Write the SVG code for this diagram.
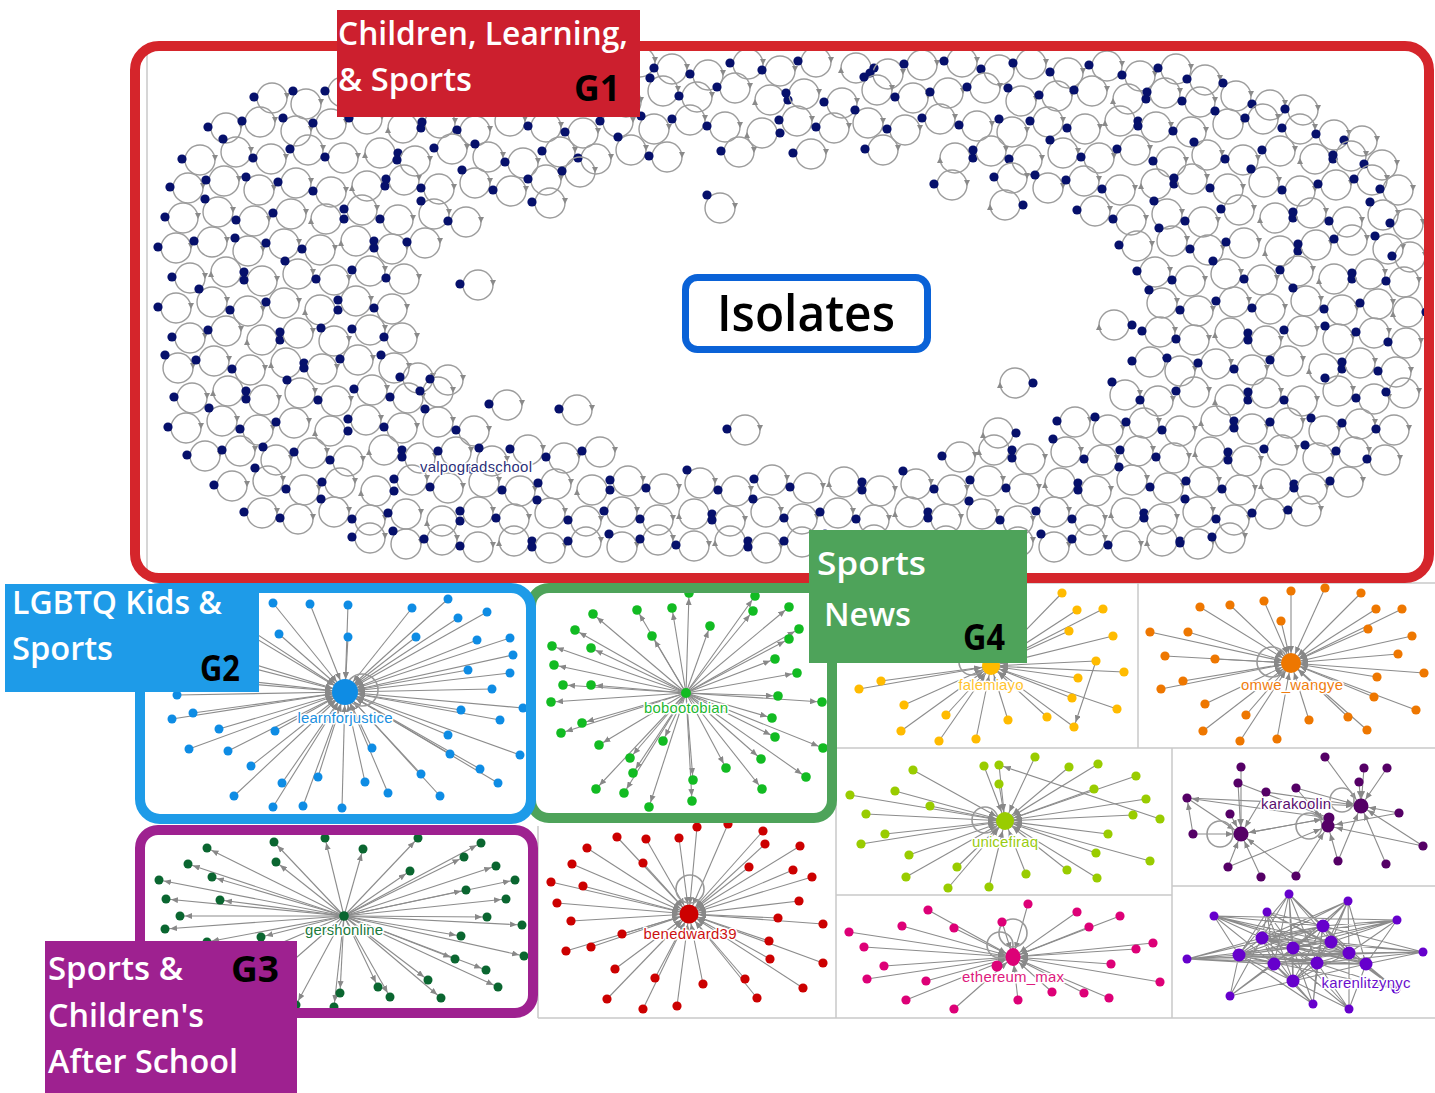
<svg xmlns="http://www.w3.org/2000/svg" xmlns:xlink="http://www.w3.org/1999/xlink" width="1435" height="1093" viewBox="0 0 1435 1093">
<style>
.ring{fill:none;stroke:#9c9c9c;stroke-width:1.4}
.nv{fill:#06106b}
.ah{fill:#8a8a8a}
.e path{stroke:#8c8c8c;stroke-width:1.1;fill:none}
.loop{fill:none;stroke:#9a9a9a;stroke-width:1.6}
.o12 path{marker-end:url(#m12)}
.i20 path{marker-end:url(#m20)}
.i17 path{marker-end:url(#m17)}
.i15 path{marker-end:url(#m15)}
.sep{stroke:#c9c9c9;stroke-width:1.5;fill:none}
.hl{font-family:"Liberation Sans",Arial,sans-serif;font-size:15px;text-anchor:middle;paint-order:stroke;stroke:#fff;stroke-width:3px;stroke-linejoin:round}
.lab{font-family:"Open Sans","Noto Sans",sans-serif;font-size:32px;font-weight:600;fill:#fff}
.gid{font-family:"Open Sans","Noto Sans",sans-serif;font-size:35px;font-weight:700;fill:#000}
</style>
<defs>
<marker id="m12" markerUnits="userSpaceOnUse" viewBox="0 0 8 6" markerWidth="8" markerHeight="6" refX="12" refY="3" orient="auto"><path d="M0,0 L7,3 L0,6z" fill="#888"/></marker>
<marker id="m15" markerUnits="userSpaceOnUse" viewBox="0 0 8 6" markerWidth="8" markerHeight="6" refX="15" refY="3" orient="auto"><path d="M0,0 L7,3 L0,6z" fill="#888"/></marker>
<marker id="m17" markerUnits="userSpaceOnUse" viewBox="0 0 8 6" markerWidth="8" markerHeight="6" refX="17" refY="3" orient="auto"><path d="M0,0 L7,3 L0,6z" fill="#888"/></marker>
<marker id="m20" markerUnits="userSpaceOnUse" viewBox="0 0 8 6" markerWidth="8" markerHeight="6" refX="20" refY="3" orient="auto"><path d="M0,0 L7,3 L0,6z" fill="#888"/></marker>
<g id="a"><circle r="15" class="ring"/><path class="ah" d="M12,-5 L18,-5 L15,1z"/><circle cx="-18" cy="-1" r="4.6" class="nv"/></g>
<g id="b"><circle r="15" class="ring"/><path class="ah" d="M12,-5 L18,-5 L15,1z"/><circle cx="-13" cy="-13" r="4.6" class="nv"/></g>
<g id="c"><circle r="15" class="ring"/><path class="ah" d="M-12,5 L-18,5 L-15,-1z"/><circle cx="18" cy="0" r="4.6" class="nv"/></g>
</defs>
<rect width="1435" height="1093" fill="#fff"/>

<g id="panel-lines">
<path class="sep" d="M147 52V572 M836 583V1018 M1138 583V748 M836 748H1435 M1172 748V1018 M836 895H1172 M1172 886H1435 M538 1018H1435 M538 826V1018 M836 583H1435"/>
</g>

<g id="isolates">
<use href="#a" x="388" y="69"/><use href="#a" x="425" y="63"/><use href="#a" x="458" y="72"/><use href="#a" x="497" y="65"/><use href="#a" x="530" y="74"/><use href="#c" x="566" y="63"/><use href="#a" x="603" y="70"/><use href="#a" x="640" y="62"/><use href="#a" x="672" y="69"/><use href="#a" x="708" y="75"/><use href="#a" x="748" y="64"/><use href="#a" x="780" y="71"/><use href="#a" x="816" y="62"/><use href="#c" x="856" y="68"/><use href="#a" x="888" y="74"/><use href="#a" x="922" y="65"/><use href="#a" x="962" y="62"/><use href="#a" x="999" y="70"/><use href="#a" x="1031" y="64"/><use href="#a" x="1068" y="73"/><use href="#a" x="1107" y="66"/><use href="#a" x="1140" y="76"/><use href="#a" x="1176" y="69"/><use href="#a" x="1205" y="80"/>
<use href="#a" x="272" y="98"/><use href="#b" x="306" y="104"/><use href="#a" x="343" y="92"/><use href="#a" x="378" y="99"/><use href="#c" x="412" y="93"/><use href="#a" x="447" y="101"/><use href="#a" x="484" y="95"/><use href="#b" x="519" y="89"/><use href="#a" x="555" y="99"/><use href="#a" x="590" y="93"/><use href="#a" x="626" y="102"/><use href="#b" x="663" y="91"/><use href="#a" x="697" y="97"/><use href="#a" x="735" y="88"/><use href="#c" x="770" y="100"/><use href="#a" x="804" y="94"/><use href="#a" x="842" y="103"/><use href="#b" x="877" y="90"/><use href="#a" x="913" y="98"/><use href="#a" x="948" y="93"/><use href="#a" x="985" y="88"/><use href="#b" x="1021" y="101"/><use href="#a" x="1057" y="96"/><use href="#a" x="1092" y="91"/><use href="#c" x="1128" y="99"/><use href="#a" x="1165" y="93"/><use href="#a" x="1200" y="102"/><use href="#b" x="1236" y="96"/><use href="#a" x="1270" y="105"/><use href="#a" x="1303" y="110"/>
<use href="#a" x="226" y="128"/><use href="#a" x="260" y="122"/><use href="#b" x="296" y="131"/><use href="#a" x="331" y="124"/><use href="#a" x="367" y="119"/><use href="#c" x="403" y="128"/><use href="#a" x="440" y="123"/><use href="#a" x="475" y="131"/><use href="#b" x="510" y="121"/><use href="#a" x="546" y="127"/><use href="#a" x="583" y="133"/><use href="#a" x="618" y="122"/><use href="#b" x="654" y="129"/><use href="#a" x="690" y="120"/><use href="#a" x="725" y="127"/><use href="#c" x="762" y="133"/><use href="#a" x="797" y="121"/><use href="#a" x="834" y="128"/><use href="#b" x="868" y="123"/><use href="#a" x="905" y="130"/><use href="#a" x="940" y="119"/><use href="#a" x="977" y="126"/><use href="#b" x="1012" y="132"/><use href="#a" x="1048" y="122"/><use href="#a" x="1085" y="129"/><use href="#c" x="1120" y="121"/><use href="#a" x="1156" y="127"/><use href="#a" x="1191" y="132"/><use href="#b" x="1228" y="124"/><use href="#a" x="1263" y="119"/><use href="#a" x="1300" y="129"/><use href="#a" x="1334" y="135"/><use href="#a" x="1362" y="141"/>
<use href="#a" x="200" y="160"/><use href="#b" x="236" y="152"/><use href="#a" x="271" y="159"/><use href="#a" x="308" y="150"/><use href="#a" x="343" y="158"/><use href="#c" x="380" y="153"/><use href="#a" x="415" y="161"/><use href="#a" x="452" y="149"/><use href="#b" x="488" y="157"/><use href="#a" x="523" y="163"/><use href="#a" x="560" y="152"/><use href="#a" x="596" y="159"/><use href="#b" x="631" y="150"/><use href="#a" x="667" y="157"/><use href="#a" x="739" y="152"/><use href="#a" x="811" y="154"/><use href="#a" x="883" y="150"/><use href="#c" x="955" y="158"/><use href="#a" x="991" y="151"/><use href="#a" x="1027" y="160"/><use href="#b" x="1063" y="153"/><use href="#a" x="1099" y="158"/><use href="#a" x="1135" y="150"/><use href="#a" x="1171" y="162"/><use href="#b" x="1207" y="155"/><use href="#a" x="1243" y="160"/><use href="#a" x="1280" y="151"/><use href="#c" x="1315" y="159"/><use href="#a" x="1351" y="156"/><use href="#a" x="1382" y="165"/>
<use href="#a" x="188" y="188"/><use href="#a" x="224" y="181"/><use href="#b" x="259" y="190"/><use href="#a" x="296" y="183"/><use href="#a" x="331" y="192"/><use href="#c" x="367" y="186"/><use href="#a" x="404" y="180"/><use href="#a" x="439" y="189"/><use href="#b" x="475" y="183"/><use href="#a" x="511" y="191"/><use href="#a" x="546" y="180"/><use href="#a" x="1012" y="178"/><use href="#b" x="1048" y="188"/><use href="#a" x="1084" y="181"/><use href="#a" x="1120" y="190"/><use href="#c" x="1156" y="184"/><use href="#a" x="1192" y="179"/><use href="#a" x="1228" y="189"/><use href="#b" x="1264" y="182"/><use href="#a" x="1300" y="191"/><use href="#a" x="1336" y="185"/><use href="#a" x="1372" y="180"/><use href="#a" x="1398" y="190"/>
<use href="#a" x="183" y="218"/><use href="#b" x="218" y="212"/><use href="#a" x="254" y="221"/><use href="#a" x="291" y="214"/><use href="#c" x="326" y="219"/><use href="#a" x="362" y="210"/><use href="#a" x="398" y="220"/><use href="#b" x="434" y="214"/><use href="#a" x="466" y="222"/><use href="#a" x="1095" y="211"/><use href="#a" x="1131" y="220"/><use href="#b" x="1167" y="214"/><use href="#a" x="1203" y="222"/><use href="#a" x="1239" y="210"/><use href="#c" x="1275" y="218"/><use href="#a" x="1311" y="213"/><use href="#a" x="1347" y="222"/><use href="#b" x="1383" y="215"/><use href="#a" x="1408" y="224"/>
<use href="#a" x="176" y="248"/><use href="#a" x="212" y="242"/><use href="#b" x="248" y="251"/><use href="#a" x="284" y="244"/><use href="#a" x="320" y="250"/><use href="#c" x="356" y="241"/><use href="#a" x="392" y="249"/><use href="#a" x="425" y="243"/><use href="#a" x="1137" y="246"/><use href="#b" x="1172" y="241"/><use href="#a" x="1208" y="250"/><use href="#a" x="1244" y="243"/><use href="#c" x="1280" y="251"/><use href="#a" x="1316" y="245"/><use href="#a" x="1352" y="240"/><use href="#b" x="1388" y="249"/><use href="#a" x="1410" y="257"/>
<use href="#a" x="190" y="278"/><use href="#c" x="226" y="272"/><use href="#a" x="262" y="281"/><use href="#b" x="298" y="274"/><use href="#a" x="334" y="280"/><use href="#a" x="370" y="271"/><use href="#a" x="404" y="279"/><use href="#a" x="1155" y="272"/><use href="#a" x="1190" y="281"/><use href="#b" x="1226" y="274"/><use href="#a" x="1262" y="280"/><use href="#a" x="1298" y="271"/><use href="#c" x="1334" y="279"/><use href="#a" x="1370" y="274"/><use href="#a" x="1404" y="282"/>
<use href="#a" x="176" y="308"/><use href="#b" x="212" y="302"/><use href="#a" x="248" y="311"/><use href="#a" x="284" y="303"/><use href="#c" x="320" y="310"/><use href="#a" x="356" y="301"/><use href="#a" x="392" y="309"/><use href="#b" x="1162" y="303"/><use href="#a" x="1198" y="311"/><use href="#a" x="1234" y="302"/><use href="#a" x="1270" y="309"/><use href="#b" x="1306" y="301"/><use href="#a" x="1342" y="310"/><use href="#a" x="1378" y="304"/><use href="#c" x="1408" y="312"/>
<use href="#a" x="190" y="338"/><use href="#a" x="226" y="331"/><use href="#c" x="262" y="340"/><use href="#a" x="298" y="333"/><use href="#b" x="334" y="341"/><use href="#a" x="370" y="330"/><use href="#a" x="402" y="338"/><use href="#a" x="1160" y="332"/><use href="#a" x="1194" y="340"/><use href="#c" x="1230" y="333"/><use href="#a" x="1266" y="341"/><use href="#a" x="1302" y="331"/><use href="#b" x="1338" y="339"/><use href="#a" x="1374" y="333"/><use href="#a" x="1406" y="343"/>
<use href="#b" x="178" y="368"/><use href="#a" x="214" y="361"/><use href="#a" x="250" y="370"/><use href="#c" x="286" y="363"/><use href="#a" x="322" y="369"/><use href="#a" x="358" y="360"/><use href="#b" x="394" y="368"/><use href="#a" x="418" y="378"/><use href="#a" x="1150" y="362"/><use href="#b" x="1180" y="371"/><use href="#a" x="1216" y="364"/><use href="#a" x="1252" y="370"/><use href="#a" x="1288" y="361"/><use href="#c" x="1324" y="369"/><use href="#a" x="1360" y="363"/><use href="#a" x="1396" y="372"/>
<use href="#a" x="192" y="398"/><use href="#c" x="228" y="391"/><use href="#a" x="264" y="400"/><use href="#b" x="300" y="393"/><use href="#a" x="336" y="401"/><use href="#a" x="372" y="390"/><use href="#a" x="408" y="398"/><use href="#a" x="438" y="392"/><use href="#b" x="1125" y="395"/><use href="#a" x="1158" y="401"/><use href="#a" x="1194" y="392"/><use href="#c" x="1230" y="400"/><use href="#a" x="1266" y="393"/><use href="#a" x="1302" y="401"/><use href="#b" x="1338" y="391"/><use href="#a" x="1374" y="399"/><use href="#a" x="1404" y="393"/>
<use href="#a" x="186" y="428"/><use href="#b" x="222" y="421"/><use href="#a" x="258" y="430"/><use href="#a" x="294" y="423"/><use href="#c" x="330" y="431"/><use href="#a" x="366" y="420"/><use href="#a" x="402" y="428"/><use href="#b" x="438" y="422"/><use href="#a" x="474" y="431"/><use href="#a" x="1075" y="422"/><use href="#b" x="1108" y="430"/><use href="#a" x="1144" y="423"/><use href="#a" x="1180" y="431"/><use href="#c" x="1216" y="421"/><use href="#a" x="1252" y="429"/><use href="#a" x="1288" y="423"/><use href="#b" x="1324" y="431"/><use href="#a" x="1360" y="424"/><use href="#a" x="1394" y="430"/>
<use href="#a" x="205" y="456"/><use href="#a" x="240" y="451"/><use href="#b" x="276" y="460"/><use href="#a" x="312" y="453"/><use href="#a" x="348" y="461"/><use href="#c" x="384" y="450"/><use href="#a" x="420" y="458"/><use href="#a" x="456" y="452"/><use href="#b" x="492" y="461"/><use href="#a" x="528" y="450"/><use href="#a" x="564" y="458"/><use href="#a" x="600" y="452"/><use href="#a" x="960" y="457"/><use href="#c" x="994" y="450"/><use href="#a" x="1030" y="459"/><use href="#b" x="1066" y="452"/><use href="#a" x="1102" y="460"/><use href="#a" x="1138" y="451"/><use href="#a" x="1174" y="458"/><use href="#c" x="1210" y="452"/><use href="#a" x="1246" y="461"/><use href="#a" x="1282" y="450"/><use href="#b" x="1318" y="458"/><use href="#a" x="1354" y="452"/><use href="#a" x="1385" y="460"/>
<use href="#a" x="232" y="486"/><use href="#b" x="268" y="481"/><use href="#a" x="304" y="490"/><use href="#a" x="340" y="483"/><use href="#c" x="376" y="491"/><use href="#a" x="412" y="480"/><use href="#a" x="448" y="488"/><use href="#b" x="484" y="482"/><use href="#a" x="520" y="491"/><use href="#a" x="556" y="484"/><use href="#c" x="592" y="490"/><use href="#a" x="628" y="481"/><use href="#a" x="664" y="489"/><use href="#b" x="700" y="483"/><use href="#a" x="736" y="491"/><use href="#a" x="772" y="480"/><use href="#a" x="808" y="488"/><use href="#c" x="844" y="482"/><use href="#a" x="880" y="491"/><use href="#b" x="916" y="484"/><use href="#a" x="952" y="490"/><use href="#a" x="988" y="481"/><use href="#a" x="1024" y="489"/><use href="#c" x="1060" y="483"/><use href="#a" x="1096" y="491"/><use href="#b" x="1132" y="480"/><use href="#a" x="1168" y="488"/><use href="#a" x="1204" y="482"/><use href="#a" x="1240" y="490"/><use href="#c" x="1276" y="484"/><use href="#a" x="1312" y="489"/><use href="#a" x="1348" y="482"/>
<use href="#a" x="262" y="513"/><use href="#a" x="298" y="519"/><use href="#b" x="334" y="512"/><use href="#a" x="370" y="520"/><use href="#a" x="406" y="514"/><use href="#c" x="442" y="521"/><use href="#a" x="478" y="512"/><use href="#a" x="514" y="519"/><use href="#b" x="550" y="513"/><use href="#a" x="586" y="521"/><use href="#a" x="622" y="512"/><use href="#a" x="658" y="520"/><use href="#c" x="694" y="514"/><use href="#a" x="730" y="521"/><use href="#b" x="766" y="512"/><use href="#a" x="802" y="519"/><use href="#a" x="838" y="513"/><use href="#a" x="874" y="520"/><use href="#c" x="910" y="512"/><use href="#a" x="946" y="519"/><use href="#b" x="982" y="514"/><use href="#a" x="1018" y="521"/><use href="#a" x="1054" y="512"/><use href="#a" x="1090" y="520"/><use href="#c" x="1126" y="513"/><use href="#a" x="1162" y="519"/><use href="#b" x="1198" y="512"/><use href="#a" x="1234" y="520"/><use href="#a" x="1270" y="514"/><use href="#a" x="1306" y="511"/>
<use href="#a" x="370" y="538"/><use href="#b" x="406" y="544"/><use href="#a" x="442" y="540"/><use href="#a" x="478" y="547"/><use href="#c" x="514" y="541"/><use href="#a" x="550" y="548"/><use href="#a" x="586" y="542"/><use href="#b" x="622" y="547"/><use href="#a" x="658" y="540"/><use href="#a" x="694" y="546"/><use href="#c" x="730" y="541"/><use href="#a" x="766" y="548"/><use href="#a" x="802" y="542"/><use href="#b" x="838" y="547"/><use href="#a" x="874" y="540"/><use href="#a" x="910" y="546"/><use href="#c" x="946" y="541"/><use href="#a" x="982" y="548"/><use href="#a" x="1018" y="542"/><use href="#b" x="1054" y="547"/><use href="#a" x="1090" y="540"/><use href="#a" x="1126" y="546"/><use href="#c" x="1162" y="541"/><use href="#a" x="1198" y="544"/><use href="#a" x="1230" y="538"/>
<use href="#a" x="478" y="285"/><use href="#a" x="507" y="405"/><use href="#a" x="577" y="410"/><use href="#b" x="720" y="208"/><use href="#c" x="1005" y="205"/><use href="#c" x="1114" y="325"/><use href="#c" x="1015" y="383"/><use href="#c" x="998" y="433"/><use href="#a" x="745" y="430"/><use href="#a" x="550" y="203"/><use href="#a" x="448" y="380"/><use href="#a" x="580" y="172"/><use href="#a" x="952" y="185"/>
<text x="476" y="472" class="hl" fill="#2b3079" textLength="112">valpogradschool</text>
</g>

<g id="cluster-learnforjustice">
<g class="e i20">
<path d="M273 603L345 692"/><path d="M310 604L345 692"/><path d="M348 605L345 692"/><path d="M412 608L345 692"/><path d="M448 599L345 692"/><path d="M487 612L345 692"/><path d="M458 618L345 692"/><path d="M279 634L345 692"/><path d="M348 637L345 692"/><path d="M416 637L345 692"/><path d="M477 640L345 692"/><path d="M510 638L345 692"/><path d="M513 655L345 692"/><path d="M468 670L345 692"/><path d="M510 673L345 692"/><path d="M492 689L345 692"/><path d="M523 708L345 692"/><path d="M461 710L345 692"/><path d="M500 720L345 692"/><path d="M448 735L345 692"/><path d="M520 755L345 692"/><path d="M450 754L345 692"/><path d="M480 769L345 692"/><path d="M498 783L345 692"/><path d="M421 774L345 692"/><path d="M440 796L345 692"/><path d="M388 793L345 692"/><path d="M365 782L345 692"/><path d="M372 748L345 692"/><path d="M342 808L345 692"/><path d="M303 806L345 692"/><path d="M273 807L345 692"/><path d="M234 796L345 692"/><path d="M282 783L345 692"/><path d="M318 777L345 692"/><path d="M251 766L345 692"/><path d="M228 751L345 692"/><path d="M189 749L345 692"/><path d="M219 729L345 692"/><path d="M275 731L345 692"/><path d="M172 719L345 692"/><path d="M193 713L345 692"/><path d="M177 695L345 692"/><path d="M200 605L345 692"/><path d="M232 618L345 692"/><path d="M190 645L345 692"/><path d="M240 665L345 692"/><path d="M165 672L345 692"/><path d="M225 682L345 692"/>
</g>
<circle class="loop" cx="362" cy="690" r="16"/>
<g fill="#0e8ce4">
<circle cx="345" cy="692" r="13"/>
<circle cx="273" cy="603" r="4.5"/><circle cx="310" cy="604" r="4.5"/><circle cx="348" cy="605" r="4.5"/><circle cx="412" cy="608" r="4.5"/><circle cx="448" cy="599" r="4.5"/><circle cx="487" cy="612" r="4.5"/><circle cx="458" cy="618" r="4.5"/><circle cx="279" cy="634" r="4.5"/><circle cx="348" cy="637" r="4.5"/><circle cx="416" cy="637" r="4.5"/><circle cx="477" cy="640" r="4.5"/><circle cx="510" cy="638" r="4.5"/><circle cx="513" cy="655" r="4.5"/><circle cx="468" cy="670" r="4.5"/><circle cx="510" cy="673" r="4.5"/><circle cx="492" cy="689" r="4.5"/><circle cx="523" cy="708" r="4.5"/><circle cx="461" cy="710" r="4.5"/><circle cx="500" cy="720" r="4.5"/><circle cx="448" cy="735" r="4.5"/><circle cx="520" cy="755" r="4.5"/><circle cx="450" cy="754" r="4.5"/><circle cx="480" cy="769" r="4.5"/><circle cx="498" cy="783" r="4.5"/><circle cx="421" cy="774" r="4.5"/><circle cx="440" cy="796" r="4.5"/><circle cx="388" cy="793" r="4.5"/><circle cx="365" cy="782" r="4.5"/><circle cx="372" cy="748" r="4.5"/><circle cx="342" cy="808" r="4.5"/><circle cx="303" cy="806" r="4.5"/><circle cx="273" cy="807" r="4.5"/><circle cx="234" cy="796" r="4.5"/><circle cx="282" cy="783" r="4.5"/><circle cx="318" cy="777" r="4.5"/><circle cx="251" cy="766" r="4.5"/><circle cx="228" cy="751" r="4.5"/><circle cx="189" cy="749" r="4.5"/><circle cx="219" cy="729" r="4.5"/><circle cx="275" cy="731" r="4.5"/><circle cx="172" cy="719" r="4.5"/><circle cx="193" cy="713" r="4.5"/><circle cx="177" cy="695" r="4.5"/>
</g>
<text x="345" y="723" class="hl" fill="#1a8fe0" textLength="95">learnforjustice</text>
</g>

<g id="cluster-bobootobian">
<g class="e o12">
<path d="M686 693L689 593"/><path d="M686 693L672 608"/><path d="M686 693L637 610"/><path d="M686 693L593 614"/><path d="M686 693L652 636"/><path d="M686 693L710 626"/><path d="M686 693L755 596"/><path d="M686 693L753 611"/><path d="M686 693L789 607"/><path d="M686 693L799 629"/><path d="M686 693L789 639"/><path d="M686 693L775 659"/><path d="M686 693L797 673"/><path d="M686 693L778 696"/><path d="M686 693L822 702"/><path d="M686 693L772 718"/><path d="M686 693L775 737"/><path d="M686 693L823 748"/><path d="M686 693L761 759"/><path d="M686 693L806 777"/><path d="M686 693L762 789"/><path d="M686 693L726 768"/><path d="M686 693L693 780"/><path d="M686 693L692 801"/><path d="M686 693L649 807"/><path d="M686 693L624 793"/><path d="M686 693L596 789"/><path d="M686 693L633 773"/><path d="M686 693L630 758"/><path d="M686 693L663 741"/><path d="M686 693L599 745"/><path d="M686 693L582 723"/><path d="M686 693L561 733"/><path d="M686 693L551 702"/><path d="M686 693L563 685"/><path d="M686 693L591 685"/><path d="M686 693L554 665"/><path d="M686 693L591 648"/><path d="M686 693L552 646"/><path d="M686 693L575 630"/>
</g>
<g fill="#12bb22">
<circle cx="686" cy="693" r="5"/>
<circle cx="689" cy="593" r="4.8"/><circle cx="672" cy="608" r="4.8"/><circle cx="637" cy="610" r="4.8"/><circle cx="593" cy="614" r="4.8"/><circle cx="652" cy="636" r="4.8"/><circle cx="710" cy="626" r="4.8"/><circle cx="755" cy="596" r="4.8"/><circle cx="753" cy="611" r="4.8"/><circle cx="789" cy="607" r="4.8"/><circle cx="799" cy="629" r="4.8"/><circle cx="789" cy="639" r="4.8"/><circle cx="775" cy="659" r="4.8"/><circle cx="797" cy="673" r="4.8"/><circle cx="778" cy="696" r="4.8"/><circle cx="822" cy="702" r="4.8"/><circle cx="772" cy="718" r="4.8"/><circle cx="775" cy="737" r="4.8"/><circle cx="823" cy="748" r="4.8"/><circle cx="761" cy="759" r="4.8"/><circle cx="806" cy="777" r="4.8"/><circle cx="762" cy="789" r="4.8"/><circle cx="726" cy="768" r="4.8"/><circle cx="693" cy="780" r="4.8"/><circle cx="692" cy="801" r="4.8"/><circle cx="649" cy="807" r="4.8"/><circle cx="624" cy="793" r="4.8"/><circle cx="596" cy="789" r="4.8"/><circle cx="633" cy="773" r="4.8"/><circle cx="630" cy="758" r="4.8"/><circle cx="663" cy="741" r="4.8"/><circle cx="599" cy="745" r="4.8"/><circle cx="582" cy="723" r="4.8"/><circle cx="561" cy="733" r="4.8"/><circle cx="551" cy="702" r="4.8"/><circle cx="563" cy="685" r="4.8"/><circle cx="591" cy="685" r="4.8"/><circle cx="554" cy="665" r="4.8"/><circle cx="591" cy="648" r="4.8"/><circle cx="552" cy="646" r="4.8"/><circle cx="575" cy="630" r="4.8"/>
</g>
<text x="686" y="713" class="hl" fill="#22b830" textLength="84">bobootobian</text>
</g>

<g id="cluster-gershonline">
<g class="e o12">
<path d="M344 916L274 842"/><path d="M344 916L325 838"/><path d="M344 916L363 849"/><path d="M344 916L418 838"/><path d="M344 916L481 843"/><path d="M344 916L464 857"/><path d="M344 916L496 866"/><path d="M344 916L410 871"/><path d="M344 916L515 880"/><path d="M344 916L466 890"/><path d="M344 916L506 899"/><path d="M344 916L487 917"/><path d="M344 916L522 925"/><path d="M344 916L461 936"/><path d="M344 916L524 956"/><path d="M344 916L455 959"/><path d="M344 916L486 970"/><path d="M344 916L498 987"/><path d="M344 916L428 980"/><path d="M344 916L441 998"/><path d="M344 916L390 997"/><path d="M344 916L378 987"/><path d="M344 916L340 993"/><path d="M344 916L334 1007"/><path d="M344 916L296 1005"/><path d="M344 916L261 937"/><path d="M344 916L207 942"/><path d="M344 916L165 929"/><path d="M344 916L180 916"/><path d="M344 916L166 899"/><path d="M344 916L220 900"/><path d="M344 916L159 880"/><path d="M344 916L212 877"/><path d="M344 916L188 864"/><path d="M344 916L276 862"/><path d="M344 916L207 848"/><path d="M344 916L230 965"/><path d="M344 916L265 985"/>
</g>
<g fill="#0a6630">
<circle cx="344" cy="916" r="4.8"/>
<circle cx="274" cy="842" r="4.5"/><circle cx="325" cy="838" r="4.5"/><circle cx="363" cy="849" r="4.5"/><circle cx="418" cy="838" r="4.5"/><circle cx="481" cy="843" r="4.5"/><circle cx="464" cy="857" r="4.5"/><circle cx="496" cy="866" r="4.5"/><circle cx="410" cy="871" r="4.5"/><circle cx="515" cy="880" r="4.5"/><circle cx="466" cy="890" r="4.5"/><circle cx="506" cy="899" r="4.5"/><circle cx="487" cy="917" r="4.5"/><circle cx="522" cy="925" r="4.5"/><circle cx="461" cy="936" r="4.5"/><circle cx="524" cy="956" r="4.5"/><circle cx="455" cy="959" r="4.5"/><circle cx="486" cy="970" r="4.5"/><circle cx="498" cy="987" r="4.5"/><circle cx="428" cy="980" r="4.5"/><circle cx="441" cy="998" r="4.5"/><circle cx="390" cy="997" r="4.5"/><circle cx="378" cy="987" r="4.5"/><circle cx="340" cy="993" r="4.5"/><circle cx="334" cy="1007" r="4.5"/><circle cx="296" cy="1005" r="4.5"/><circle cx="261" cy="937" r="4.5"/><circle cx="207" cy="942" r="4.5"/><circle cx="165" cy="929" r="4.5"/><circle cx="180" cy="916" r="4.5"/><circle cx="166" cy="899" r="4.5"/><circle cx="220" cy="900" r="4.5"/><circle cx="159" cy="880" r="4.5"/><circle cx="212" cy="877" r="4.5"/><circle cx="188" cy="864" r="4.5"/><circle cx="276" cy="862" r="4.5"/><circle cx="207" cy="848" r="4.5"/>
</g>
<text x="344" y="935" class="hl" fill="#1b7a3c" textLength="78">gershonline</text>
</g>

<g id="cluster-benedward39">
<g class="e i17">
<path d="M697 827L689 914"/><path d="M728 824L689 914"/><path d="M679 838L689 914"/><path d="M646 839L689 914"/><path d="M617 837L689 914"/><path d="M587 848L689 914"/><path d="M572 864L689 914"/><path d="M643 863L689 914"/><path d="M551 882L689 914"/><path d="M583 886L689 914"/><path d="M557 903L689 914"/><path d="M571 921L689 914"/><path d="M622 934L689 914"/><path d="M591 947L689 914"/><path d="M566 951L689 914"/><path d="M615 969L689 914"/><path d="M655 978L689 914"/><path d="M607 999L689 914"/><path d="M643 1009L689 914"/><path d="M677 1006L689 914"/><path d="M703 984L689 914"/><path d="M745 979L689 914"/><path d="M757 998L689 914"/><path d="M803 988L689 914"/><path d="M770 959L689 914"/><path d="M769 941L689 914"/><path d="M823 963L689 914"/><path d="M823 924L689 914"/><path d="M778 918L689 914"/><path d="M799 901L689 914"/><path d="M812 877L689 914"/><path d="M793 870L689 914"/><path d="M749 867L689 914"/><path d="M800 846L689 914"/><path d="M765 844L689 914"/><path d="M763 831L689 914"/>
</g>
<circle class="loop" cx="690" cy="889" r="14"/>
<g fill="#cc0000">
<circle cx="689" cy="914" r="9.5"/>
<circle cx="697" cy="827" r="4.6"/><circle cx="728" cy="824" r="4.6"/><circle cx="679" cy="838" r="4.6"/><circle cx="646" cy="839" r="4.6"/><circle cx="617" cy="837" r="4.6"/><circle cx="587" cy="848" r="4.6"/><circle cx="572" cy="864" r="4.6"/><circle cx="643" cy="863" r="4.6"/><circle cx="551" cy="882" r="4.6"/><circle cx="583" cy="886" r="4.6"/><circle cx="557" cy="903" r="4.6"/><circle cx="571" cy="921" r="4.6"/><circle cx="622" cy="934" r="4.6"/><circle cx="591" cy="947" r="4.6"/><circle cx="566" cy="951" r="4.6"/><circle cx="615" cy="969" r="4.6"/><circle cx="655" cy="978" r="4.6"/><circle cx="607" cy="999" r="4.6"/><circle cx="643" cy="1009" r="4.6"/><circle cx="677" cy="1006" r="4.6"/><circle cx="703" cy="984" r="4.6"/><circle cx="745" cy="979" r="4.6"/><circle cx="757" cy="998" r="4.6"/><circle cx="803" cy="988" r="4.6"/><circle cx="770" cy="959" r="4.6"/><circle cx="769" cy="941" r="4.6"/><circle cx="823" cy="963" r="4.6"/><circle cx="823" cy="924" r="4.6"/><circle cx="778" cy="918" r="4.6"/><circle cx="799" cy="901" r="4.6"/><circle cx="812" cy="877" r="4.6"/><circle cx="793" cy="870" r="4.6"/><circle cx="749" cy="867" r="4.6"/><circle cx="800" cy="846" r="4.6"/><circle cx="765" cy="844" r="4.6"/><circle cx="763" cy="831" r="4.6"/>
</g>
<text x="690" y="939" class="hl" fill="#cc1111" textLength="93">benedward39</text>
</g>

<g id="cluster-falemiayo">
<g class="e i17">
<path d="M1062 593L991 666"/><path d="M1077 610L991 666"/><path d="M1103 609L991 666"/><path d="M1069 631L991 666"/><path d="M1113 636L991 666"/><path d="M1096 661L991 666"/><path d="M1124 672L991 666"/><path d="M1078 678L991 666"/><path d="M1072 698L991 666"/><path d="M1117 709L991 666"/><path d="M1074 727L991 666"/><path d="M1047 717L991 666"/><path d="M1008 720L991 666"/><path d="M976 739L991 666"/><path d="M939 741L991 666"/><path d="M901 731L991 666"/><path d="M946 715L991 666"/><path d="M904 705L991 666"/><path d="M881 681L991 666"/><path d="M859 689L991 666"/><path d="M960 610L991 666"/><path d="M1000 600L991 666"/><path d="M930 640L991 666"/><path d="M1015 630L991 666"/>
</g>
<g class="e o12"><path d="M1096 661L1074 727"/></g>
<circle class="loop" cx="972" cy="662" r="13"/>
<g fill="#ffbb00">
<circle cx="991" cy="666" r="9"/>
<circle cx="1062" cy="593" r="4.6"/><circle cx="1077" cy="610" r="4.6"/><circle cx="1103" cy="609" r="4.6"/><circle cx="1069" cy="631" r="4.6"/><circle cx="1113" cy="636" r="4.6"/><circle cx="1096" cy="661" r="4.6"/><circle cx="1124" cy="672" r="4.6"/><circle cx="1078" cy="678" r="4.6"/><circle cx="1072" cy="698" r="4.6"/><circle cx="1117" cy="709" r="4.6"/><circle cx="1074" cy="727" r="4.6"/><circle cx="1047" cy="717" r="4.6"/><circle cx="1008" cy="720" r="4.6"/><circle cx="976" cy="739" r="4.6"/><circle cx="939" cy="741" r="4.6"/><circle cx="901" cy="731" r="4.6"/><circle cx="946" cy="715" r="4.6"/><circle cx="904" cy="705" r="4.6"/><circle cx="881" cy="681" r="4.6"/><circle cx="859" cy="689" r="4.6"/>
</g>
<text x="991" y="690" class="hl" fill="#ffc431" textLength="65">falemiayo</text>
</g>

<g id="cluster-omwe_wangye">
<g class="e i17">
<path d="M1200 607L1291 663"/><path d="M1230 605L1291 663"/><path d="M1264 601L1291 663"/><path d="M1291 591L1291 663"/><path d="M1325 588L1291 663"/><path d="M1361 593L1291 663"/><path d="M1376 609L1291 663"/><path d="M1402 609L1291 663"/><path d="M1368 629L1291 663"/><path d="M1412 636L1291 663"/><path d="M1398 654L1291 663"/><path d="M1424 673L1291 663"/><path d="M1377 677L1291 663"/><path d="M1374 697L1291 663"/><path d="M1416 710L1291 663"/><path d="M1367 730L1291 663"/><path d="M1348 717L1291 663"/><path d="M1309 720L1291 663"/><path d="M1277 739L1291 663"/><path d="M1240 741L1291 663"/><path d="M1203 731L1291 663"/><path d="M1246 715L1291 663"/><path d="M1205 704L1291 663"/><path d="M1183 681L1291 663"/><path d="M1161 689L1291 663"/><path d="M1165 656L1291 663"/><path d="M1215 659L1291 663"/><path d="M1150 632L1291 663"/><path d="M1188 632L1291 663"/><path d="M1281 621L1291 663"/>
</g>
<circle class="loop" cx="1272" cy="662" r="15"/>
<g fill="#ee7700">
<circle cx="1291" cy="663" r="10"/>
<circle cx="1200" cy="607" r="4.6"/><circle cx="1230" cy="605" r="4.6"/><circle cx="1264" cy="601" r="4.6"/><circle cx="1291" cy="591" r="4.6"/><circle cx="1325" cy="588" r="4.6"/><circle cx="1361" cy="593" r="4.6"/><circle cx="1376" cy="609" r="4.6"/><circle cx="1402" cy="609" r="4.6"/><circle cx="1368" cy="629" r="4.6"/><circle cx="1412" cy="636" r="4.6"/><circle cx="1398" cy="654" r="4.6"/><circle cx="1424" cy="673" r="4.6"/><circle cx="1377" cy="677" r="4.6"/><circle cx="1374" cy="697" r="4.6"/><circle cx="1416" cy="710" r="4.6"/><circle cx="1367" cy="730" r="4.6"/><circle cx="1348" cy="717" r="4.6"/><circle cx="1309" cy="720" r="4.6"/><circle cx="1277" cy="739" r="4.6"/><circle cx="1240" cy="741" r="4.6"/><circle cx="1203" cy="731" r="4.6"/><circle cx="1246" cy="715" r="4.6"/><circle cx="1205" cy="704" r="4.6"/><circle cx="1183" cy="681" r="4.6"/><circle cx="1161" cy="689" r="4.6"/><circle cx="1165" cy="656" r="4.6"/><circle cx="1215" cy="659" r="4.6"/><circle cx="1150" cy="632" r="4.6"/><circle cx="1188" cy="632" r="4.6"/><circle cx="1281" cy="621" r="4.6"/>
</g>
<text x="1292" y="690" class="hl" fill="#ef7d10" textLength="102">omwe_wangye</text>
</g>

<g id="cluster-unicefiraq">
<g class="e i17">
<path d="M984 766L1005 821"/><path d="M999 765L1005 821"/><path d="M1035 757L1005 821"/><path d="M1069 767L1005 821"/><path d="M1098 764L1005 821"/><path d="M1136 776L1005 821"/><path d="M913 770L1005 821"/><path d="M999 784L1005 821"/><path d="M1094 789L1005 821"/><path d="M895 791L1005 821"/><path d="M850 795L1005 821"/><path d="M930 806L1005 821"/><path d="M1146 799L1005 821"/><path d="M866 814L1005 821"/><path d="M1133 815L1005 821"/><path d="M885 834L1005 821"/><path d="M1108 834L1005 821"/><path d="M861 844L1005 821"/><path d="M1096 853L1005 821"/><path d="M1150 861L1005 821"/><path d="M909 855L1005 821"/><path d="M957 867L1005 821"/><path d="M1067 870L1005 821"/><path d="M1026 874L1005 821"/><path d="M1097 878L1005 821"/><path d="M906 877L1005 821"/><path d="M948 888L1005 821"/><path d="M989 887L1005 821"/>
</g>
<g class="e o12"><path d="M1160 819L999 765"/></g>
<circle class="loop" cx="985" cy="820" r="13"/>
<g fill="#99cc00">
<circle cx="1005" cy="821" r="9"/>
<circle cx="984" cy="766" r="4.6"/><circle cx="999" cy="765" r="4.6"/><circle cx="1035" cy="757" r="4.6"/><circle cx="1069" cy="767" r="4.6"/><circle cx="1098" cy="764" r="4.6"/><circle cx="1136" cy="776" r="4.6"/><circle cx="913" cy="770" r="4.6"/><circle cx="999" cy="784" r="4.6"/><circle cx="1094" cy="789" r="4.6"/><circle cx="895" cy="791" r="4.6"/><circle cx="850" cy="795" r="4.6"/><circle cx="930" cy="806" r="4.6"/><circle cx="1146" cy="799" r="4.6"/><circle cx="866" cy="814" r="4.6"/><circle cx="1133" cy="815" r="4.6"/><circle cx="1160" cy="819" r="4.6"/><circle cx="885" cy="834" r="4.6"/><circle cx="1108" cy="834" r="4.6"/><circle cx="861" cy="844" r="4.6"/><circle cx="1096" cy="853" r="4.6"/><circle cx="1150" cy="861" r="4.6"/><circle cx="909" cy="855" r="4.6"/><circle cx="957" cy="867" r="4.6"/><circle cx="1067" cy="870" r="4.6"/><circle cx="1026" cy="874" r="4.6"/><circle cx="1097" cy="878" r="4.6"/><circle cx="906" cy="877" r="4.6"/><circle cx="948" cy="888" r="4.6"/><circle cx="989" cy="887" r="4.6"/>
</g>
<text x="1005" y="847" class="hl" fill="#99cc11" textLength="66">unicefiraq</text>
</g>

<g id="cluster-karakoolin">
<g class="e i15">
<path d="M1325 757L1361 806"/><path d="M1364 768L1361 806"/><path d="M1387 768L1361 806"/><path d="M1359 782L1361 806"/><path d="M1399 813L1361 806"/><path d="M1423 846L1361 806"/><path d="M1386 864L1361 806"/><path d="M1338 861L1361 806"/><path d="M1266 792L1361 806"/><path d="M1296 788L1361 806"/><path d="M1187 798L1361 806"/>
<path d="M1241 767L1241 834"/><path d="M1238 783L1241 834"/><path d="M1230 814L1241 834"/><path d="M1193 834L1241 834"/><path d="M1228 867L1241 834"/><path d="M1261 877L1241 834"/><path d="M1296 876L1241 834"/><path d="M1187 798L1241 834"/><path d="M1266 792L1241 834"/><path d="M1329 818L1241 834"/>
<path d="M1228 867L1328 826"/><path d="M1296 876L1328 826"/><path d="M1338 861L1328 826"/><path d="M1399 813L1328 826"/><path d="M1296 788L1328 826"/><path d="M1238 783L1329 818"/><path d="M1241 834L1329 818"/><path d="M1423 846L1328 826"/>
</g>
<g class="e o12"><path d="M1193 834L1187 798"/><path d="M1329 818L1187 798"/></g>
<circle class="loop" cx="1220" cy="834" r="13"/><circle class="loop" cx="1309" cy="826" r="13"/><circle class="loop" cx="1342" cy="800" r="12"/>
<g fill="#550066">
<circle cx="1361" cy="806" r="7.5"/><circle cx="1241" cy="834" r="7.5"/><circle cx="1328" cy="826" r="6.5"/><circle cx="1329" cy="818" r="5.5"/>
<circle cx="1325" cy="757" r="4.6"/><circle cx="1241" cy="767" r="4.6"/><circle cx="1364" cy="768" r="4.6"/><circle cx="1387" cy="768" r="4.6"/><circle cx="1238" cy="783" r="4.6"/><circle cx="1266" cy="792" r="4.6"/><circle cx="1296" cy="788" r="4.6"/><circle cx="1359" cy="782" r="4.6"/><circle cx="1187" cy="798" r="4.6"/><circle cx="1230" cy="814" r="4.6"/><circle cx="1399" cy="813" r="4.6"/><circle cx="1193" cy="834" r="4.6"/><circle cx="1423" cy="846" r="4.6"/><circle cx="1338" cy="861" r="4.6"/><circle cx="1386" cy="864" r="4.6"/><circle cx="1228" cy="867" r="4.6"/><circle cx="1261" cy="877" r="4.6"/><circle cx="1296" cy="876" r="4.6"/>
</g>
<text x="1296" y="809" class="hl" fill="#5a1070" textLength="70">karakoolin</text>
</g>

<g id="cluster-ethereum_max">
<g class="e i15">
<path d="M928 910L1013 957"/><path d="M1028 904L1013 957"/><path d="M1077 912L1013 957"/><path d="M1120 916L1013 957"/><path d="M902 926L1013 957"/><path d="M954 928L1013 957"/><path d="M1002 922L1013 957"/><path d="M1089 927L1013 957"/><path d="M849 932L1013 957"/><path d="M1153 943L1013 957"/><path d="M1136 949L1013 957"/><path d="M864 947L1013 957"/><path d="M1111 964L1013 957"/><path d="M884 966L1013 957"/><path d="M867 979L1013 957"/><path d="M926 981L1013 957"/><path d="M1160 982L1013 957"/><path d="M1052 992L1013 957"/><path d="M1084 993L1013 957"/><path d="M1109 998L1013 957"/><path d="M1018 1000L1013 957"/><path d="M906 1000L1013 957"/><path d="M954 1009L1013 957"/>
</g>
<circle class="loop" cx="1000" cy="945" r="13"/><circle class="loop" cx="1013" cy="933" r="14"/>
<g fill="#dd0077">
<ellipse cx="1013" cy="957" rx="7.5" ry="9"/><circle cx="997" cy="966" r="5.5"/>
<circle cx="928" cy="910" r="4.6"/><circle cx="1028" cy="904" r="4.6"/><circle cx="1077" cy="912" r="4.6"/><circle cx="1120" cy="916" r="4.6"/><circle cx="902" cy="926" r="4.6"/><circle cx="954" cy="928" r="4.6"/><circle cx="1002" cy="922" r="4.6"/><circle cx="1089" cy="927" r="4.6"/><circle cx="849" cy="932" r="4.6"/><circle cx="1153" cy="943" r="4.6"/><circle cx="1136" cy="949" r="4.6"/><circle cx="864" cy="947" r="4.6"/><circle cx="1111" cy="964" r="4.6"/><circle cx="884" cy="966" r="4.6"/><circle cx="867" cy="979" r="4.6"/><circle cx="926" cy="981" r="4.6"/><circle cx="1160" cy="982" r="4.6"/><circle cx="1052" cy="992" r="4.6"/><circle cx="1084" cy="993" r="4.6"/><circle cx="1109" cy="998" r="4.6"/><circle cx="1018" cy="1000" r="4.6"/><circle cx="906" cy="1000" r="4.6"/><circle cx="954" cy="1009" r="4.6"/>
</g>
<text x="1013" y="982" class="hl" fill="#dd1a7d" textLength="102">ethereum_max</text>
</g>

<g id="cluster-karenlitzynyc">
<g class="e">
<path d="M1323 926L1262 938M1323 926L1331 942M1323 926L1293 948M1323 926L1239 955M1323 926L1349 953M1323 926L1274 964M1323 926L1317 963M1323 926L1366 964M1323 926L1293 981M1262 938L1331 942M1262 938L1293 948M1262 938L1239 955M1262 938L1349 953M1262 938L1274 964M1262 938L1317 963M1262 938L1366 964M1262 938L1293 981M1331 942L1293 948M1331 942L1239 955M1331 942L1349 953M1331 942L1274 964M1331 942L1317 963M1331 942L1366 964M1331 942L1293 981M1293 948L1239 955M1293 948L1349 953M1293 948L1274 964M1293 948L1317 963M1293 948L1366 964M1293 948L1293 981M1239 955L1349 953M1239 955L1274 964M1239 955L1317 963M1239 955L1366 964M1239 955L1293 981M1349 953L1274 964M1349 953L1317 963M1349 953L1366 964M1349 953L1293 981M1274 964L1317 963M1274 964L1366 964M1274 964L1293 981M1317 963L1366 964M1317 963L1293 981M1366 964L1293 981"/>
<path d="M1289 894L1323 926M1289 894L1262 938M1289 894L1331 942M1289 894L1293 948M1289 894L1239 955M1289 894L1274 964M1289 894L1317 963M1289 894L1293 981M1289 894L1349 953M1348 901L1323 926M1348 901L1262 938M1348 901L1331 942M1348 901L1293 948M1348 901L1349 953M1348 901L1317 963M1348 901L1366 964M1348 901L1239 955M1267 912L1323 926M1267 912L1262 938M1267 912L1293 948M1267 912L1239 955M1267 912L1349 953M1267 912L1274 964M1267 912L1366 964M1267 912L1293 981M1214 916L1323 926M1214 916L1262 938M1214 916L1239 955M1214 916L1349 953M1214 916L1331 942M1214 916L1366 964M1214 916L1274 964M1397 920L1323 926M1397 920L1331 942M1397 920L1349 953M1397 920L1366 964M1397 920L1262 938M1397 920L1239 955M1397 920L1293 948M1187 959L1262 938M1187 959L1239 955M1187 959L1274 964M1187 959L1323 926M1187 959L1331 942M1187 959L1366 964M1187 959L1349 953M1423 952L1349 953M1423 952L1366 964M1423 952L1331 942M1423 952L1239 955M1423 952L1323 926M1423 952L1262 938M1423 952L1317 963M1230 996L1239 955M1230 996L1274 964M1230 996L1293 981M1230 996L1262 938M1230 996L1293 948M1230 996L1323 926M1313 1004L1274 964M1313 1004L1317 963M1313 1004L1293 981M1313 1004L1293 948M1313 1004L1323 926M1313 1004L1239 955M1349 1009L1317 963M1349 1009L1366 964M1349 1009L1293 981M1349 1009L1349 953M1349 1009L1262 938M1349 1009L1293 948M1396 989L1366 964M1396 989L1349 953M1396 989L1317 963M1396 989L1331 942M1396 989L1239 955M1187 959L1423 952M1214 916L1397 920"/>
</g>
<g fill="#6600cc">
<circle cx="1323" cy="926" r="6.5"/><circle cx="1262" cy="938" r="6.5"/><circle cx="1331" cy="942" r="6.5"/><circle cx="1293" cy="948" r="6.5"/><circle cx="1239" cy="955" r="6.5"/><circle cx="1349" cy="953" r="6.5"/><circle cx="1274" cy="964" r="6.5"/><circle cx="1317" cy="963" r="6.5"/><circle cx="1366" cy="964" r="6.5"/><circle cx="1293" cy="981" r="6.5"/>
<circle cx="1289" cy="894" r="4.5"/><circle cx="1348" cy="901" r="4.5"/><circle cx="1267" cy="912" r="4.5"/><circle cx="1214" cy="916" r="4.5"/><circle cx="1397" cy="920" r="4.5"/><circle cx="1187" cy="959" r="4.5"/><circle cx="1423" cy="952" r="4.5"/><circle cx="1230" cy="996" r="4.5"/><circle cx="1313" cy="1004" r="4.5"/><circle cx="1349" cy="1009" r="4.5"/><circle cx="1396" cy="989" r="4.5"/>
</g>
<text x="1366" y="988" class="hl" fill="#6a10cc" textLength="89">karenlitzynyc</text>
</g>

<g id="group-frames">
<rect id="frame-G1" x="135" y="46" width="1294" height="532" rx="24" fill="none" stroke="#d5252b" stroke-width="10"/>
<rect id="frame-G4" x="531" y="588" width="301" height="230" rx="18" fill="none" stroke="#4ea35a" stroke-width="10"/>
<rect id="frame-G2" x="140" y="588" width="391" height="231" rx="20" fill="none" stroke="#1e9be8" stroke-width="10"/>
<rect id="frame-G3" x="140" y="830" width="393" height="183" rx="18" fill="none" stroke="#9e2190" stroke-width="10"/>
</g>

<g id="label-G1">
<rect x="337" y="10" width="303" height="107" fill="#cc1f2e"/>
<text x="338" y="45" class="lab" textLength="290" lengthAdjust="spacingAndGlyphs">Children, Learning,</text>
<text x="338" y="91" class="lab" textLength="134" lengthAdjust="spacingAndGlyphs">&amp; Sports</text>
<text x="574" y="101" class="gid" font-size="42" textLength="46" lengthAdjust="spacingAndGlyphs">G1</text>
</g>

<g id="label-G2">
<rect x="5" y="584" width="254" height="108" fill="#1e9be8"/>
<text x="12" y="614" class="lab" textLength="210" lengthAdjust="spacingAndGlyphs">LGBTQ Kids &amp;</text>
<text x="12" y="660" class="lab" textLength="101" lengthAdjust="spacingAndGlyphs">Sports</text>
<text x="200" y="681" class="gid" textLength="40" lengthAdjust="spacingAndGlyphs">G2</text>
</g>

<g id="label-G4">
<rect x="809" y="530" width="218" height="133" fill="#4ea35a"/>
<text x="817" y="575" class="lab" textLength="109" lengthAdjust="spacingAndGlyphs">Sports</text>
<text x="824" y="626" class="lab" textLength="87" lengthAdjust="spacingAndGlyphs">News</text>
<text x="963" y="650" class="gid" textLength="42" lengthAdjust="spacingAndGlyphs">G4</text>
</g>

<g id="label-G3">
<rect x="45" y="941" width="252" height="152" fill="#9e2190"/>
<text x="48" y="980" class="lab" textLength="135" lengthAdjust="spacingAndGlyphs">Sports &amp;</text>
<text x="48" y="1027" class="lab" textLength="156" lengthAdjust="spacingAndGlyphs">Children's</text>
<text x="48" y="1073" class="lab" textLength="190" lengthAdjust="spacingAndGlyphs">After School</text>
<text x="231" y="982" class="gid" textLength="48" lengthAdjust="spacingAndGlyphs">G3</text>
</g>

<g id="label-isolates">
<rect x="685.5" y="277.5" width="242" height="72" rx="12" fill="#fff" stroke="#0a62d7" stroke-width="7"/>
<text x="806" y="331" font-family="Open Sans, Noto Sans, sans-serif" font-size="50" font-weight="600" fill="#000" text-anchor="middle" textLength="178" lengthAdjust="spacingAndGlyphs">Isolates</text>
</g>
</svg>
